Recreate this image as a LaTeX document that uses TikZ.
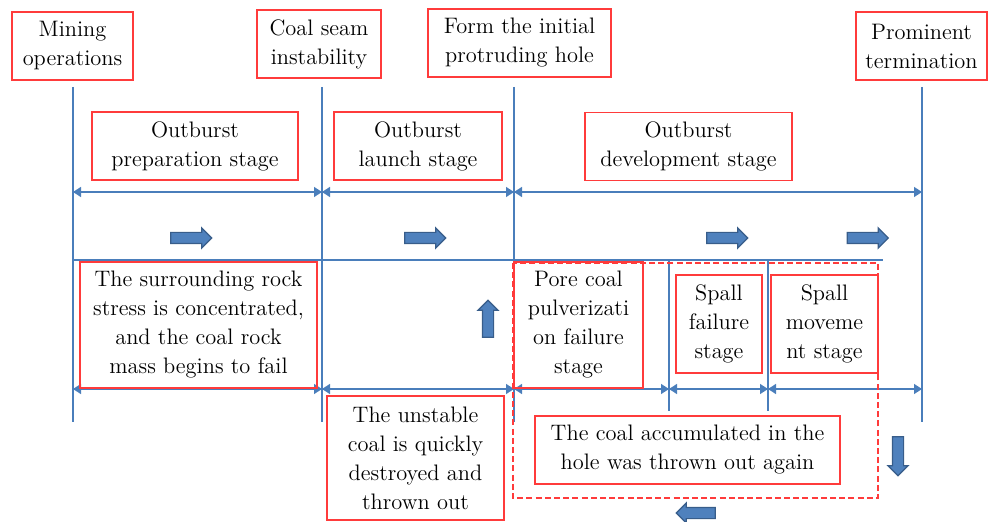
\documentclass[tikz,border=0pt]{standalone}
\usetikzlibrary{arrows.meta,shapes.arrows}
\definecolor{lineblue}{HTML}{4A7EBB}
\definecolor{arrowfill}{HTML}{4F81BD}
\definecolor{arrowedge}{HTML}{385D8A}
\definecolor{boxred}{HTML}{FF3B3B}

\begin{document}
\begin{tikzpicture}[x=0.5pt,y=-0.5pt,
    every node/.style={font=\rmfamily\fontsize{11.2}{14.5}\selectfont, align=center, inner sep=0pt},
    redbox/.style={draw=boxred, line width=0.6pt, minimum height=34pt},
    tick/.style={draw=lineblue, line width=0.7pt},
    dim/.style={draw=lineblue, line width=0.7pt, {Triangle[length=4pt,width=5pt]}-{Triangle[length=4pt,width=5pt]}},
    blockarrow/.style={single arrow, draw=arrowedge, fill=arrowfill, line width=0.6pt,
      minimum height=20.5pt, inner sep=2.5pt, single arrow head extend=2.25pt, single arrow head indent=0pt}]
  \useasboundingbox (0,0) rectangle (988,522);

  % time marks
  \coordinate (m0) at (73,87);
  \coordinate (m1) at (322,87);
  \coordinate (m2) at (514,87);
  \coordinate (m3) at (922,87);
  \coordinate (base) at (0,422);
  \coordinate (s1) at (669,260);
  \coordinate (s2) at (768,260);
  \coordinate (subbase) at (0,411);
  \coordinate (rowA) at (0,192);
  \coordinate (rowB) at (0,389);
  \coordinate (split) at (0,260);
  \coordinate (splitend) at (883,260);

  \foreach \m in {m0,m1,m2,m3}
    \draw[tick] (\m) -- (\m |- base);
  \foreach \s in {s1,s2}
    \draw[tick] (\s) -- (\s |- subbase);
  \draw[tick, line width=0.9pt] (m0 |- split) -- (splitend);

  % stage spans
  \draw[dim] (m0 |- rowA) -- (m1 |- rowA);
  \draw[dim] (m1 |- rowA) -- (m2 |- rowA);
  \draw[dim] (m2 |- rowA) -- (m3 |- rowA);
  \draw[dim] (m0 |- rowB) -- (m1 |- rowB);
  \draw[dim] (m1 |- rowB) -- (m2 |- rowB);
  \draw[dim] (m2 |- rowB) -- (s1 |- rowB);
  \draw[dim] (s1 |- rowB) -- (s2 |- rowB);
  \draw[dim] (s2 |- rowB) -- (m3 |- rowB);

  % events
  \node[redbox, minimum width=60.5pt] (mining) at (72.5,46) {Mining\\operations};
  \node[redbox, minimum width=62pt] (seam) at (319,44) {Coal seam\\instability};
  \node[redbox, minimum width=91.5pt] (hole) at (519.5,43) {Form the initial\\protruding hole};
  \node[redbox, minimum width=65.5pt] (term) at (921.5,46) {Prominent\\termination};

  % stages
  \node[redbox, minimum width=103pt] (prep) at (195,146) {Outburst\\preparation stage};
  \node[redbox, minimum width=84pt] (launch) at (418,146) {Outburst\\launch stage};
  \node[redbox, minimum width=103.5pt] (develop) at (688.5,146.5) {Outburst\\development stage};

  \node[redbox, minimum width=118.5pt, minimum height=63pt] (surround) at (198.5,325)
    {The surrounding rock\\stress is concentrated,\\and the coal rock\\mass begins to fail};
  \node[redbox, minimum width=88.5pt, minimum height=62pt] (unstable) at (415.5,458)
    {The unstable\\coal is quickly\\destroyed and\\thrown out};
  \node[redbox, minimum width=64.5pt, minimum height=63pt] (pore) at (578.5,325)
    {Pore coal\\pulverizati\\on failure\\stage};
  \node[redbox, minimum width=43pt, minimum height=49pt] (spallf) at (719,324)
    {Spall\\failure\\stage};
  \node[redbox, minimum width=53.5pt, minimum height=49pt] (spallm) at (824.5,324)
    {Spall\\moveme\\nt stage};
  \node[redbox, minimum width=152.5pt] (accum) at (687.5,450)
    {The coal accumulated in the\\hole was thrown out again};
  \draw[boxred, line width=0.6pt, dash pattern=on 3pt off 1.6pt] (513,263) rectangle (878,498);

  % flow
  \node[blockarrow] (r1) at (188.5,238) {};
  \node[blockarrow] (r2) at (422.5,238) {};
  \node[blockarrow] (r3) at (724.5,238) {};
  \node[blockarrow] (r4) at (865,238) {};
  \node[blockarrow, minimum height=18.5pt, rotate=90] (up) at (488,321.5) {};
  \node[blockarrow, minimum height=19.5pt, rotate=-90] (down) at (898,453.5) {};
  \node[blockarrow, minimum height=19.5pt, rotate=180] (back) at (698.5,513) {};
\end{tikzpicture}
\end{document}
